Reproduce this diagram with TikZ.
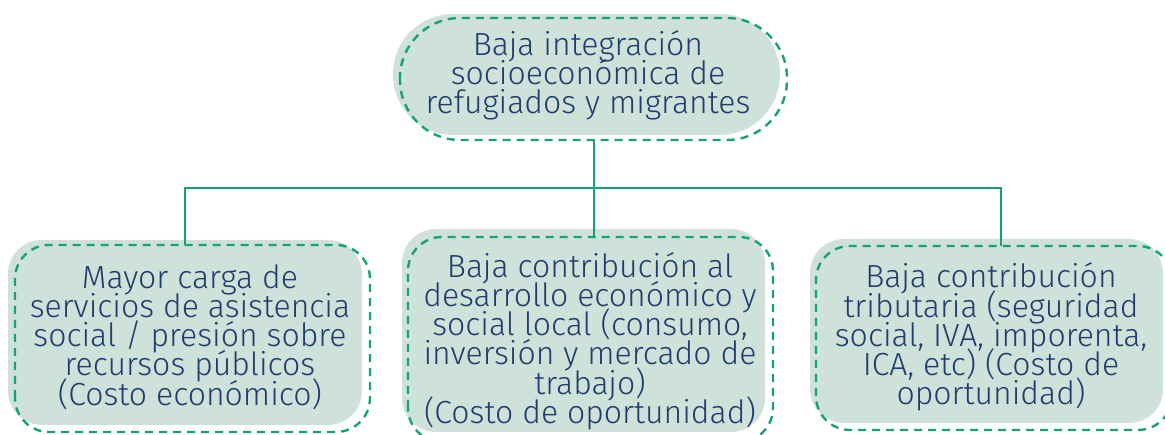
\documentclass[tikz,border=0pt]{standalone}
\usepackage{fontspec}
\setmainfont{Fira Sans Light}
\definecolor{boxfill}{HTML}{CFE2D9}
\definecolor{dashgreen}{HTML}{17A07C}
\definecolor{txtblue}{HTML}{1F3D6E}
\newcommand\mytxtfont{\fontsize{32}{29.2}\selectfont\lineskiplimit=-40pt\relax}
\begin{document}
\begin{tikzpicture}[x=1pt,y=1pt,
  every node/.style={inner sep=0pt,outer sep=0pt},
  fillbox/.style={fill=boxfill,rounded corners=34pt},
  txt/.style={text=txtblue,align=center,font=\mytxtfont},
  outline/.style={draw=dashgreen,line width=2.4pt,dash pattern=on 8pt off 6pt,rounded corners=34pt},
  link/.style={draw=dashgreen,line width=2pt}]
\useasboundingbox (0,0) rectangle (1165,435);
% fills
\fill[boxfill,rounded corners=60pt] (393,300) rectangle (780,421);
\fill[fillbox] (8,10) rectangle (362,195);
\fill[fillbox] (402,3) rectangle (765,206);
\fill[fillbox] (810,12) rectangle (1163,196);
% dashed outlines
\draw[outline,rounded corners=60pt] (400,295) rectangle (787,417);
\draw[outline] (15,3) rectangle (370,190);
\draw[outline] (408,-7) rectangle (773,198);
\draw[outline] (816,5) rectangle (1172,189);
% texts
\node[txt] (top) at (588,360) {Baja integración\\socioeconómica de\\refugiados y migrantes};
\node[txt] (left) at (190,98) {Mayor carga de\\servicios de asistencia\\social / presión sobre\\recursos públicos\\(Costo económico)};
\node[txt] (mid) at (590,94) {Baja contribución al\\desarrollo económico y\\social local (consumo,\\inversión y mercado de\\trabajo)\\(Costo de oportunidad)};
\node[txt] (right) at (991,98) {Baja contribución\\tributaria (seguridad\\social, IVA, imporenta,\\ICA, etc) (Costo de\\oportunidad)};
% connectors
\coordinate (tb) at (594,295);
\coordinate (j) at (594,247);
\coordinate (lt) at (185,190);
\coordinate (mt) at (594,198);
\coordinate (rt) at (1001,189);
\draw[link] (tb) -- (j);
\draw[link] (lt) |- (j) -| (rt);
\draw[link] (j) -- (mt);
\end{tikzpicture}
\end{document}
